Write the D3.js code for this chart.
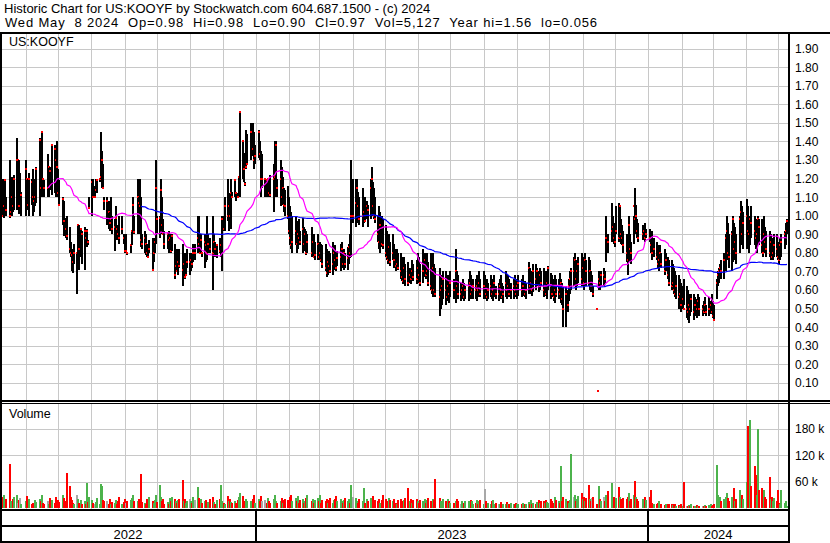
<!DOCTYPE html>
<html><head><meta charset="utf-8">
<script src="https://cdn.jsdelivr.net/npm/d3@7"></script>
<style>
body{margin:0;background:#fff}
svg{display:block}
text{font-family:"Liberation Sans",Arial,sans-serif;fill:#000}
</style>
</head><body>
<svg id="chart" width="830" height="543"></svg>
<script>
// ---------- data ----------
const holidays = ["2022-05-30","2022-06-20","2022-07-04","2022-09-05","2022-11-24","2022-12-26",
  "2023-01-02","2023-01-16","2023-02-20","2023-04-07","2023-05-29","2023-06-19","2023-07-04","2023-09-04","2023-11-23","2023-12-25",
  "2024-01-01","2024-01-15","2024-02-19","2024-03-29"];

const highs = [
1.14,1.20,1.12,1.20,1.10, 1.30,1.18,1.21,1.20,1.22, 1.42,1.30,1.30,1.23,1.13, 1.30,1.20,1.20,1.23,
1.20,1.25,1.17,1.20,1.26, 1.42,1.20,1.45,1.20,1.19, 1.33,1.27,1.26,1.38, 1.38,1.35,1.40,1.25,1.19,
1.10,1.08,0.99,1.00, 0.94,0.86,0.82,0.80,0.85, 0.80,0.95,0.95,0.93,0.92, 0.94,0.91,0.93,0.87,1.10,
1.20,1.20,1.16,1.20,1.20, 1.20,1.45,1.35,1.28,1.10, 1.10,1.08,1.02,1.10,1.00, 0.98,1.05,0.95,0.95,1.00,
1.00,0.90,0.90,0.90,0.80, 0.85,0.92,1.10,1.00, 1.20,1.10,1.20,1.10,0.90, 0.92,0.90,0.85,0.84,0.87,
0.88,0.82,0.88,1.30,1.00, 1.00,1.20,1.10,0.98,0.92, 0.90,0.92,0.88,0.90,0.90, 0.85,0.82,0.82,0.80,0.82,
0.85,0.80,0.80,0.80,0.82, 0.80,0.80,0.80,0.85,0.85, 1.00,1.00,0.90,0.90,0.80, 0.90,0.90,1.00,0.90,0.88,
1.00,0.90,0.86,0.84, 0.88,0.86,1.00,1.00,1.10, 1.20,1.12,1.10,1.20,1.13, 1.20,1.12,1.12,1.21,1.56,
1.40,1.34,1.18,1.46,1.44, 1.50,1.50,1.45,1.38,
1.46,1.40,1.35,1.33, 1.20,1.20,1.18,1.20,1.22, 1.28,1.40,1.40,1.20, 1.30,1.26,1.21,1.15,1.14,
1.16,1.10,1.05,1.02,1.00, 1.00,0.97,0.95,0.98,0.92, 0.99,0.94,0.93,0.92,0.90, 0.94,0.90,0.90,0.86,
0.90,0.85,0.86,0.85,0.84, 0.85,0.82,0.80,0.81,0.80, 0.86,0.82,0.84,0.80,0.81, 0.85,0.86,0.80,0.82,0.80,
0.83,0.85,0.90,1.30,1.20, 1.20,1.20,1.13,1.10, 1.15,1.05,1.10,1.08,1.06, 1.20,1.26,1.18,1.15,1.10,
1.00,1.05,1.02,1.00,0.98, 0.95,0.92,0.88,0.90,0.86, 0.90,0.85,0.82,0.82,0.80, 0.80,0.78,0.76,0.78,0.74,
0.75,0.72,0.70,0.76,0.74, 0.76,0.80,0.78,0.74, 0.82,0.80,0.78,0.80,0.75, 0.80,0.78,0.80,0.74,0.72,
0.72,0.68,0.66,0.70, 0.70,0.68,0.66,0.68,0.70, 0.66,0.82,0.70,0.68, 0.64,0.62,0.66,0.64,0.62,
0.66,0.70,0.68,0.65,0.66, 0.66,0.68,0.66,0.70,0.66, 0.70,0.68,0.66,0.66,0.64, 0.68,0.66,0.66,0.68,0.62,
0.64,0.66,0.68,0.64,0.62, 0.70,0.66,0.68,0.66,0.64, 0.66,0.68,0.64,0.66,0.68, 0.66,0.68,0.65,0.64,
0.75,0.72,0.70,0.68,0.74, 0.74,0.72,0.70,0.72,0.70, 0.72,0.70,0.68,0.70,0.73, 0.69,0.68,0.66,0.68,0.66,
0.66,0.69,0.66,0.64,0.62, 0.62,0.60,0.66,0.70,0.72, 0.78,0.80,0.76,0.74,0.78, 0.80,0.76,0.78,0.80,0.76,
0.78,0.76,0.70,0.68,0.62, 0.50,0.056,0.70,0.68,0.70, 0.72,0.70,1.00,0.90, 1.07,1.00,0.96,0.92,1.05,
1.07,1.05,0.98,0.95,0.92, 0.90,0.88,1.00,0.90,0.86, 1.00,1.15,1.06,0.98,0.96, 0.95,0.94,0.96,0.93,
0.93,0.90,0.92,0.88, 0.86,0.84,0.82,0.84,0.80, 0.82,0.80,0.78,0.76, 0.76,0.74,0.72,0.70,0.68,
0.68,0.66,0.64,0.62,0.66, 0.62,0.60,0.58,0.56,0.58, 0.58,0.56,0.55,0.58,0.56, 0.52,0.54,0.56,0.52,
0.56,0.54,0.58,0.54,0.52, 0.66,0.70,0.72,0.74,0.76, 0.80,0.90,1.00,0.96,0.90, 0.92,1.00,0.96,0.94,0.90,
1.00,1.08,1.05,1.02, 1.09,1.05,1.00,0.98,1.05, 1.00,0.98,0.96,1.00,0.98, 0.98,0.96,1.00,0.94,0.92,
0.92,0.90,0.88,0.86,0.90, 0.90,0.86,0.84,0.88,0.90, 0.92,0.96,0.98];

const lows = [
1.01,1.00,0.99,1.03,1.00, 0.99,1.02,1.00,1.02,1.03, 1.03,1.05,1.01,1.05,1.00, 1.00,1.03,1.04,1.00,
1.06,1.00,1.02,1.05,1.07, 1.00,1.10,1.10,1.10,1.10, 1.10,1.10,1.14,1.11, 1.12,1.10,1.10,1.10,1.05,
0.95,0.89,0.88,0.87, 0.80,0.78,0.70,0.69,0.74, 0.58,0.78,0.71,0.78,0.74, 0.71,0.85,0.83,0.84,1.04,
1.00,1.10,1.10,1.14,1.12, 1.18,1.20,1.15,1.15,1.03, 0.95,0.93,0.92,0.98,0.90, 0.81,0.90,0.87,0.90,0.85,
0.90,0.85,0.80,0.80,0.79, 0.80,0.84,0.90,0.90, 0.90,0.90,0.95,0.83,0.82, 0.80,0.79,0.78,0.77,0.80,
0.70,0.75,0.80,0.85,0.90, 0.88,0.98,0.90,0.90,0.82, 0.82,0.80,0.81,0.80,0.81, 0.66,0.70,0.70,0.68,0.72,
0.62,0.70,0.66,0.68,0.72, 0.68,0.70,0.72,0.75,0.76, 0.80,0.80,0.80,0.80,0.78, 0.72,0.75,0.76,0.80,0.80,
0.60,0.80,0.78,0.77, 0.80,0.78,0.70,0.92,0.92, 0.97,0.92,0.96,0.93,1.10, 1.10,1.08,1.10,1.12,1.10,
1.20,1.18,1.16,1.25,1.28, 1.30,1.32,1.25,1.28,
1.31,1.30,1.10,1.15, 1.10,1.10,1.12,1.10,1.10, 1.02,1.10,1.12,1.10, 1.05,1.08,1.06,1.02,1.00,
0.98,0.90,0.84,0.82,0.80, 0.84,0.80,0.82,0.86,0.84, 0.80,0.82,0.81,0.79,0.80, 0.78,0.79,0.77,0.76,
0.76,0.76,0.77,0.75,0.72, 0.70,0.67,0.68,0.70,0.69, 0.68,0.72,0.71,0.70,0.73, 0.70,0.74,0.72,0.71,0.72,
0.71,0.74,0.77,0.78,0.96, 0.94,0.96,1.00,0.95, 0.94,0.96,0.97,0.98,0.94, 0.98,1.00,1.02,0.98,0.96,
0.86,0.82,0.80,0.83,0.82, 0.78,0.76,0.74,0.75,0.73, 0.76,0.72,0.70,0.72,0.71, 0.66,0.65,0.63,0.64,0.62,
0.62,0.64,0.63,0.66,0.65, 0.63,0.66,0.64,0.62, 0.64,0.67,0.66,0.68,0.62, 0.60,0.58,0.56,0.58,0.56,
0.46,0.50,0.52,0.55, 0.52,0.54,0.55,0.53,0.56, 0.55,0.53,0.56,0.55, 0.54,0.55,0.56,0.54,0.55,
0.54,0.56,0.55,0.56,0.55, 0.55,0.54,0.56,0.58,0.56, 0.55,0.56,0.55,0.54,0.55, 0.56,0.55,0.54,0.56,0.55,
0.54,0.55,0.56,0.55,0.53, 0.56,0.55,0.57,0.56,0.55, 0.55,0.56,0.56,0.55,0.57, 0.56,0.57,0.56,0.55,
0.58,0.60,0.58,0.57,0.59, 0.60,0.62,0.59,0.60,0.62, 0.56,0.58,0.57,0.55,0.60, 0.55,0.56,0.54,0.53,0.56,
0.55,0.56,0.53,0.52,0.40, 0.40,0.48,0.54,0.58,0.60, 0.62,0.64,0.60,0.62,0.64, 0.62,0.64,0.60,0.63,0.62,
0.62,0.60,0.59,0.60,0.56, 0.50,0.056,0.60,0.60,0.62, 0.62,0.64,0.75,0.80, 0.86,0.88,0.85,0.83,0.90,
0.86,0.88,0.85,0.84,0.80, 0.75,0.68,0.75,0.78,0.74, 0.85,0.90,0.92,0.88,0.86, 0.87,0.88,0.86,0.88,
0.86,0.80,0.76,0.78, 0.76,0.72,0.70,0.74,0.72, 0.68,0.70,0.66,0.62, 0.60,0.62,0.58,0.56,0.55,
0.50,0.52,0.48,0.50,0.52, 0.45,0.44,0.42,0.46,0.48, 0.44,0.46,0.45,0.48,0.46, 0.46,0.47,0.48,0.46,
0.46,0.47,0.48,0.45,0.44, 0.55,0.62,0.64,0.66,0.66, 0.66,0.70,0.80,0.76,0.72, 0.70,0.75,0.80,0.76,0.74,
0.80,0.84,0.86,0.82, 0.82,0.86,0.80,0.84,0.88, 0.84,0.82,0.80,0.86,0.84, 0.80,0.78,0.82,0.80,0.78,
0.78,0.76,0.77,0.76,0.78, 0.78,0.76,0.74,0.76,0.78, 0.82,0.84,0.90];

const closes = [
1.13,1.00,1.05,1.19,1.03, 1.00,1.02,1.10,1.05,1.20, 1.30,1.30,1.05,1.05,1.11, 1.25,1.20,1.06,1.20,
1.18,1.10,1.08,1.10,1.25, 1.41,1.15,1.45,1.20,1.15, 1.15,1.26,1.24,1.38, 1.36,1.30,1.26,1.12,1.06,
1.09,0.97,0.93,0.89, 0.82,0.80,0.79,0.75,0.80, 0.80,0.95,0.82,0.93,0.90, 0.92,0.88,0.92,0.86,1.04,
1.18,1.10,1.10,1.14,1.19, 1.20,1.21,1.30,1.15,1.08, 1.08,1.02,0.96,0.98,0.93, 0.94,0.99,0.93,0.90,0.88,
0.93,0.88,0.81,0.81,0.80, 0.84,0.92,1.06,0.91, 1.10,1.07,1.05,0.87,0.85, 0.88,0.85,0.80,0.78,0.82,
0.71,0.80,0.86,1.15,0.98, 0.99,1.14,0.95,0.90,0.85, 0.90,0.87,0.88,0.81,0.89, 0.68,0.73,0.70,0.75,0.73,
0.71,0.74,0.67,0.68,0.75, 0.75,0.76,0.74,0.80,0.80, 0.88,0.85,0.80,0.87,0.80, 0.86,0.84,0.80,0.85,0.82,
0.80,0.86,0.82,0.84, 0.81,0.84,0.98,0.93,1.05, 1.00,1.05,1.00,1.12,1.10, 1.19,1.12,1.10,1.21,1.56,
1.40,1.25,1.17,1.26,1.28, 1.45,1.36,1.30,1.32,
1.45,1.33,1.20,1.20, 1.20,1.19,1.20,1.12,1.11, 1.20,1.21,1.38,1.15, 1.20,1.10,1.15,1.06,1.05,
1.00,0.92,0.88,0.84,0.86, 0.92,0.85,0.90,0.88,0.86, 0.93,0.85,0.90,0.80,0.86, 0.80,0.86,0.78,0.79,
0.85,0.78,0.80,0.76,0.74, 0.72,0.69,0.75,0.73,0.70, 0.74,0.80,0.76,0.72,0.77, 0.78,0.82,0.74,0.80,0.74,
0.77,0.83,0.80,1.00,1.00, 1.07,1.15,1.05,0.98, 1.00,1.02,0.97,1.05,1.03, 1.15,1.20,1.05,1.00,0.98,
0.90,0.86,0.95,0.85,0.84, 0.80,0.78,0.76,0.83,0.75, 0.80,0.76,0.73,0.74,0.72, 0.70,0.67,0.65,0.72,0.66,
0.64,0.68,0.66,0.70,0.67, 0.66,0.72,0.68,0.64, 0.70,0.76,0.68,0.70,0.64, 0.62,0.60,0.72,0.60,0.58,
0.56,0.60,0.62,0.66, 0.60,0.56,0.62,0.58,0.64, 0.60,0.70,0.62,0.58, 0.58,0.60,0.62,0.56,0.60,
0.62,0.64,0.58,0.60,0.62, 0.60,0.62,0.60,0.64,0.58, 0.62,0.62,0.58,0.56,0.60, 0.62,0.58,0.60,0.64,0.58,
0.58,0.62,0.60,0.56,0.58, 0.64,0.60,0.62,0.58,0.60, 0.62,0.60,0.58,0.62,0.64, 0.60,0.62,0.58,0.60,
0.72,0.62,0.64,0.60,0.70, 0.66,0.70,0.62,0.68,0.64, 0.60,0.62,0.58,0.64,0.72, 0.62,0.58,0.56,0.60,0.58,
0.60,0.58,0.64,0.55,0.50, 0.58,0.52,0.62,0.66,0.70, 0.70,0.76,0.66,0.70,0.74, 0.66,0.72,0.64,0.76,0.70,
0.64,0.70,0.62,0.62,0.58, 0.50,0.056,0.66,0.64,0.68, 0.68,0.66,0.88,0.86, 0.92,0.94,0.88,0.86,0.92,
0.88,1.05,0.90,0.88,0.84, 0.80,0.76,0.95,0.82,0.80, 1.05,0.98,1.00,0.92,0.88, 0.90,0.92,0.88,0.90,
0.88,0.84,0.80,0.82, 0.78,0.74,0.76,0.80,0.74, 0.70,0.76,0.68,0.64, 0.62,0.64,0.60,0.58,0.62,
0.56,0.58,0.52,0.55,0.50, 0.50,0.48,0.52,0.50,0.55, 0.48,0.52,0.50,0.54,0.50, 0.50,0.48,0.52,0.48,
0.50,0.52,0.48,0.46,0.44, 0.64,0.68,0.70,0.72,0.70, 0.76,0.88,0.92,0.80,0.78, 0.90,0.98,0.82,0.86,0.80,
0.98,1.02,0.90,0.96, 1.00,0.92,0.90,0.98,0.96, 0.92,0.88,0.90,0.98,0.94, 0.84,0.80,0.90,0.86,0.82,
0.80,0.86,0.78,0.80,0.84, 0.82,0.78,0.76,0.84,0.86, 0.90,0.92,0.97];

// volume in thousands of shares
const volumesK = [
25,18,30,12,20, 100,15,10,20,25, 30,12,18,22,10, 15,28,12,20,
8,12,6,18,14, 20,15,30,12,10, 15,10,22,18, 12,25,10,18,14,
30,22,15,80, 49,25,18,12,10, 30,20,12,18,10, 15,10,57,14,25,
18,12,10,14,22, 10,54,49,18,15, 15,10,20,8,14, 12,18,10,15,25,
10,14,20,12,15, 18,22,30,15, 15,20,12,76,14, 12,10,20,15,25,
15,12,18,30,14, 52,25,15,20,10, 14,10,22,15,25, 20,15,12,18,20,
63,15,20,12,16, 20,15,12,25,18, 48,22,15,20,12, 15,18,10,14,20,
25,14,10,18, 20,53,15,12,10, 28,15,20,14,12, 15,12,18,25,35,
28,15,12,20,15, 15,20,30,12,
20,15,28,15, 18,12,22,15,12, 20,30,15,12, 15,22,12,18,20,
18,12,25,30,15, 22,15,28,12,18, 20,12,15,22,30, 15,20,12,18,
22,15,30,12,18, 15,20,12,18,22, 12,18,20,28,15, 20,15,12,18,22,
15,20,12,53,25, 22,15,12,20, 15,46,12,20,15, 22,15,28,12,18,
15,20,12,18,30, 20,15,12,22,18, 15,20,12,10,18, 20,15,12,18,22,
45,15,20,12,18, 20,15,12,18, 15,20,12,18,22, 15,12,20,18,65,
22,15,12,20, 15,12,20,15,12, 12,15,20,15, 10,15,8,12,15,
15,12,18,15,10, 12,18,10,15,18, 10,43,15,8,12, 10,15,18,10,12,
8,10,14,10,8, 10,14,8,10,12, 10,8,12,10,8, 10,12,8,10,
14,10,18,8,12, 10,14,18,12,15, 15,12,18,14,12, 20,15,12,25,18,
15,12,94,15,25, 20,15,12,18,122, 25,30,15,20,28, 35,20,25,15,22,
52,20,15,22,25, 8,6,49,20,15, 25,15,30,38, 57,20,25,15,22,
48,25,20,15,22, 20,25,35,15,20, 30,62,25,20,15, 20,15,25,18,
25,40,12,10, 8,12,15,6,8, 6,8,10,8, 8,6,10,8,5,
6,5,8,5,58, 5,4,6,5,8, 4,5,6,4,5, 5,4,6,4,
6,8,5,6,10, 97,30,20,25,15, 20,25,35,22,15, 25,20,45,15,20,
40,25,30,20, 60,185,40,199,50, 95,75,30,178,40, 45,30,40,25,20,
70,20,25,15,22, 15,40,12,10,40, 12,15,5.127];

const priceTicks = [0.1,0.2,0.3,0.4,0.5,0.6,0.7,0.8,0.9,1.0,1.1,1.2,1.3,1.4,1.5,1.6,1.7,1.8,1.9];
const volumeTicks = [60,120,180];
const yearLabels = ["2022","2023","2024"];
const titleLine = "Historic Chart for US:KOOYF by Stockwatch.com 604.687.1500 - (c) 2024";
const infoLine = "Wed May  8 2024  Op=0.98  Hi=0.98  Lo=0.90  Cl=0.97  Vol=5,127  Year hi=1.56  lo=0.056";
const symbol = "US:KOOYF";

// ---------- dates ----------
const fmtDay = d3.timeFormat("%Y-%m-%d");
const dates = d3.timeDay.range(new Date(2022,4,9), new Date(2024,4,9))
  .filter(d => d.getDay() !== 0 && d.getDay() !== 6 && !holidays.includes(fmtDay(d)));
const n = Math.min(dates.length, highs.length, lows.length, closes.length, volumesK.length);
const bars = d3.range(n).map(i => ({date: dates[i], h: highs[i], l: lows[i], c: closes[i], v: volumesK[i],
  dir: i === 0 ? -1 : Math.sign(closes[i] - closes[i-1])}));

function sma(win) {
  const out = [];
  for (let i = win - 1; i < n; i++) out.push({date: dates[i], v: d3.mean(closes.slice(i - win + 1, i + 1))});
  return out;
}

// ---------- layout ----------
const svg = d3.select("#chart");
const plotR = 788;
const x = d3.scaleTime().domain([new Date(2022,4,8), new Date(2024,4,10)]).range([0, plotR]);
const y = d3.scaleLinear().domain([0, 2]).range([401.4, 30]);
const yv = d3.scaleLinear().domain([0, 240]).range([508, 402]);

const gridColor = "#c8c8c8";
const months = d3.timeMonth.range(new Date(2022,5,1), new Date(2024,4,9));

const gMain = svg.append("g").attr("shape-rendering", "crispEdges");
gMain.selectAll("line.h").data(priceTicks).join("line")
  .attr("x1", 2).attr("x2", plotR).attr("y1", d => Math.round(y(d)) + 0.5).attr("y2", d => Math.round(y(d)) + 0.5)
  .attr("stroke", gridColor);
gMain.selectAll("line.v").data(months).join("line")
  .attr("x1", d => Math.round(x(d)) + 0.5).attr("x2", d => Math.round(x(d)) + 0.5)
  .attr("y1", 34).attr("y2", 400).attr("stroke", gridColor);

const gVol = svg.append("g").attr("shape-rendering", "crispEdges");
gVol.selectAll("line.h").data(volumeTicks).join("line")
  .attr("x1", 2).attr("x2", plotR).attr("y1", d => Math.round(yv(d)) + 0.5).attr("y2", d => Math.round(yv(d)) + 0.5)
  .attr("stroke", gridColor);
gVol.selectAll("line.v").data(months).join("line")
  .attr("x1", d => Math.round(x(d)) + 0.5).attr("x2", d => Math.round(x(d)) + 0.5)
  .attr("y1", 404).attr("y2", 509).attr("stroke", gridColor);

// price bars (high-low line + red close mark)
const gBars = svg.append("g").attr("shape-rendering", "crispEdges");
bars.forEach(b => {
  const bx = Math.round(x(b.date));
  const yt = Math.round(y(b.h)), yb = Math.round(y(b.l));
  if (b.h > b.l) {
    gBars.append("rect").attr("x", bx).attr("y", yt).attr("width", 2).attr("height", Math.max(1, yb - yt)).attr("fill", "#000");
  }
  gBars.append("rect").attr("x", bx).attr("y", Math.round(y(b.c)) - 1).attr("width", 2).attr("height", 2).attr("fill", "#ff0000");
});

// moving averages
const line = d3.line().x(d => Math.round(x(d.date)) + 1).y(d => y(d.v));
svg.append("path").datum(sma(90)).attr("d", line).attr("fill", "none").attr("stroke", "#0000ff").attr("stroke-width", 1.2);
svg.append("path").datum(sma(30)).attr("d", line).attr("fill", "none").attr("stroke", "#ff00ff").attr("stroke-width", 1.2);

// volume bars
svg.append("g").attr("shape-rendering", "crispEdges").selectAll("rect").data(bars).join("rect")
  .attr("x", d => Math.round(x(d.date))).attr("width", 2)
  .attr("y", d => Math.round(yv(d.v))).attr("height", d => Math.max(0, 508 - Math.round(yv(d.v))))
  .attr("fill", d => d.dir > 0 ? "#4cb34c" : (d.dir < 0 ? "#ff0000" : "#a8a8a8"));

// ---------- frame ----------
const frame = svg.append("g").attr("shape-rendering", "crispEdges").attr("fill", "#000");
frame.append("rect").attr("x", 0).attr("y", 32).attr("width", 830).attr("height", 2);
frame.append("rect").attr("x", 0).attr("y", 32).attr("width", 2).attr("height", 511);
frame.append("rect").attr("x", 788).attr("y", 32).attr("width", 2).attr("height", 511);
frame.append("rect").attr("x", 0).attr("y", 400).attr("width", 830).attr("height", 1.5);
frame.append("rect").attr("x", 0).attr("y", 402.5).attr("width", 830).attr("height", 1.5);
frame.append("rect").attr("x", 0).attr("y", 509).attr("width", 790).attr("height", 2);
frame.append("rect").attr("x", 0).attr("y", 525).attr("width", 790).attr("height", 2);
frame.append("rect").attr("x", 0).attr("y", 541).attr("width", 790).attr("height", 2);

const yearStarts = [new Date(2022,4,8), new Date(2023,0,1), new Date(2024,0,1), new Date(2024,4,10)];
frame.selectAll("rect.yr").data(yearStarts.slice(1, 3)).join("rect")
  .attr("x", d => Math.round(x(d)) - 1).attr("y", 510).attr("width", 2).attr("height", 32);
svg.selectAll("text.year").data(yearLabels).join("text")
  .attr("x", (d, i) => (Math.max(0, x(yearStarts[i])) + Math.min(788, x(yearStarts[i + 1]))) / 2)
  .attr("y", 539).attr("text-anchor", "middle").attr("font-size", 13).text(d => d);

svg.selectAll("text.py").data(priceTicks).join("text")
  .attr("x", 795).attr("y", d => y(d) + 4.5).attr("font-size", 12).text(d => d.toFixed(2));
svg.selectAll("text.vy").data(volumeTicks).join("text")
  .attr("x", 795).attr("y", d => yv(d) + 4.5).attr("font-size", 12).text(d => d + " k");

svg.append("text").attr("x", 4).attr("y", 13).attr("font-size", 13).style("white-space", "pre").text(titleLine);
svg.append("text").attr("x", 5).attr("y", 27).attr("font-size", 13).style("white-space", "pre")
  .attr("textLength", 592).attr("lengthAdjust", "spacing").text(infoLine);
svg.append("text").attr("x", 9).attr("y", 46).attr("font-size", 12.5).text(symbol);
svg.append("text").attr("x", 9).attr("y", 418).attr("font-size", 12.5).text("Volume");
</script>
</body></html>
